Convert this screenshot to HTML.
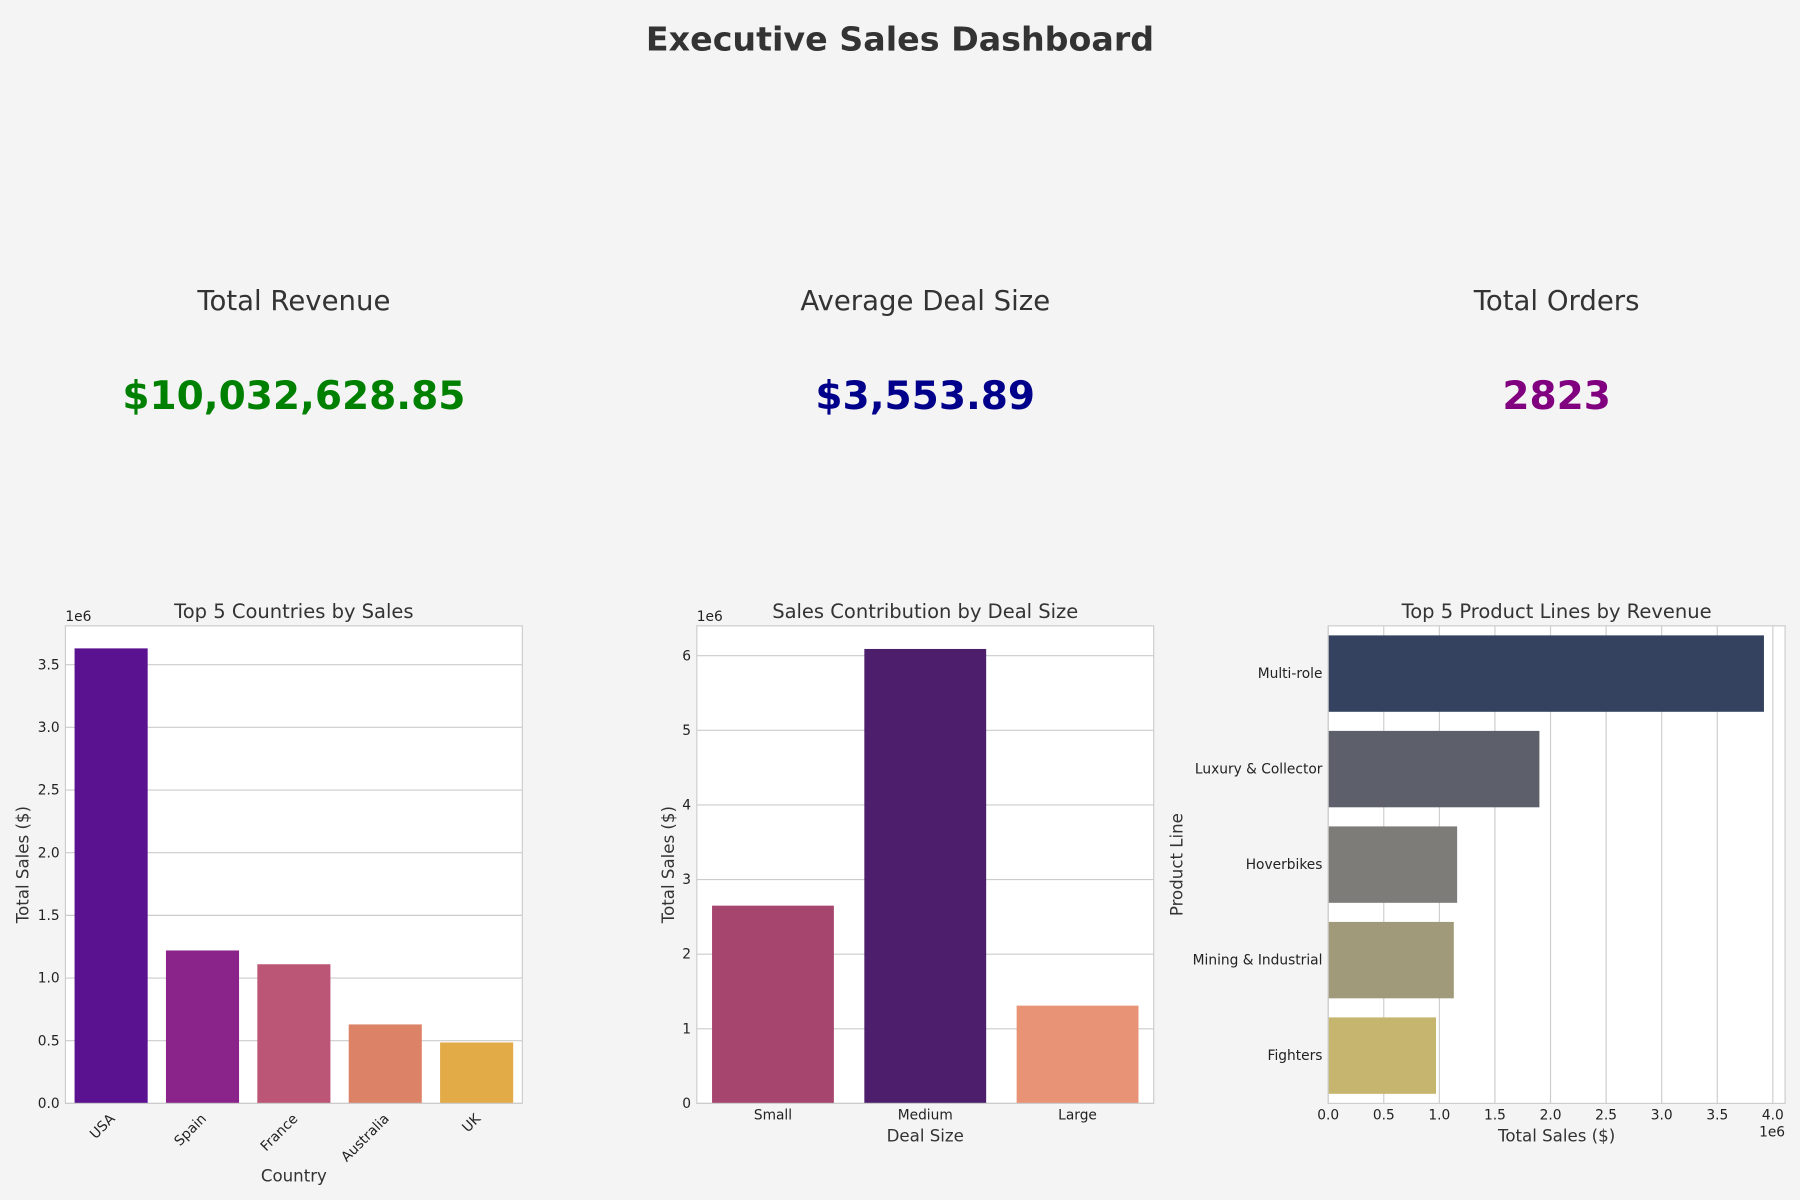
<!DOCTYPE html>
<html><head><meta charset="utf-8"><style>
html,body{margin:0;padding:0;background:#f4f4f4;}
svg{display:block;font-family:"DejaVu Sans","Liberation Sans",sans-serif;}
</style></head><body>
<svg id="s" width="1800" height="1200" viewBox="0 0 1568 1045">
<rect width="1568" height="1045" fill="#f4f4f4"/>
<text x="784" y="44" text-anchor="middle" font-size="29" font-weight="bold" fill="#333">Executive Sales Dashboard</text>
<text x="256" y="270" text-anchor="middle" font-size="24" fill="#333">Total Revenue</text>
<text x="256" y="356" text-anchor="middle" font-size="34" font-weight="bold" fill="#008000">$10,032,628.85</text>
<text x="806" y="270" text-anchor="middle" font-size="24" fill="#333">Average Deal Size</text>
<text x="806" y="356" text-anchor="middle" font-size="34" font-weight="bold" fill="#00008b">$3,553.89</text>
<text x="1356" y="270" text-anchor="middle" font-size="24" fill="#333">Total Orders</text>
<text x="1356" y="356" text-anchor="middle" font-size="34" font-weight="bold" fill="#800080">2823</text>
</svg>
<script>
const countries=["USA","Spain","France","Australia","UK"];
const countrySales=[3.63,1.22,1.11,0.63,0.486];
const countryTicks=[0,0.5,1.0,1.5,2.0,2.5,3.0,3.5];
const dealSizes=["Small","Medium","Large"];
const dealSales=[2.65,6.09,1.31];
const dealTicks=[0,1,2,3,4,5,6];
const productLines=["Multi-role","Luxury & Collector","Hoverbikes","Mining & Industrial","Fighters"];
const productSales=[3.92,1.90,1.16,1.13,0.97];
const productTicks=[0,0.5,1.0,1.5,2.0,2.5,3.0,3.5,4.0];

const NS="http://www.w3.org/2000/svg",S=document.getElementById('s');
function el(t,a,txt){const e=document.createElementNS(NS,t);for(const k in a)e.setAttribute(k,a[k]);if(txt!==undefined)e.textContent=txt;S.appendChild(e);return e;}
const T=545,B=961,FS=12;
function frame(x0,x1,name){const r=el('rect',{x:x0,y:T,width:x1-x0,height:B-T,fill:'#fff'});

}
function border(x0,x1,name){const r=el('rect',{x:x0,y:T,width:x1-x0,height:B-T,fill:'none',stroke:'#ccc','stroke-width':1});

}
function title(x,t,name){const e=el('text',{x:x,y:538,'text-anchor':'middle','font-size':17,fill:'#333'},t);

}

// Chart 1
(function(){const x0=57,x1=455,max=3.81;const y=v=>B-(B-T)*v/max;
frame(x0,x1,'countries');
countryTicks.forEach(t=>{const yy=y(t);el('line',{x1:x0,x2:x1,y1:yy,y2:yy,stroke:'#ccc'});
const l=el('text',{x:x0-5,y:yy+4,'text-anchor':'end','font-size':FS,fill:'#222'},t.toFixed(1));

});
const bw=(x1-x0)/countries.length;
countries.forEach((c,i)=>{const cols=["#5b1290","#8a238a","#bc5676","#dc8266","#e3ab48"];
const r=el('rect',{x:x0+bw*i+bw*0.1,y:y(countrySales[i]),width:bw*0.8,height:B-y(countrySales[i]),fill:cols[i]});


const cx=x0+bw*(i+0.5);
const l=el('text',{x:cx+4,y:B+14,'text-anchor':'end','font-size':FS,fill:'#222',transform:`rotate(-45 ${cx+4} ${B+14})`},c);

});
border(x0,x1,'countries');
el('text',{x:57,y:541,'font-size':FS,fill:'#222'},'1e6');
title(256,'Top 5 Countries by Sales','countries');
const xl=el('text',{x:256,y:1029,'text-anchor':'middle','font-size':14.5,fill:'#333'},'Country');

const yl=el('text',{x:25,y:753,'text-anchor':'middle','font-size':14.5,fill:'#333',transform:'rotate(-90 25 753)'},'Total Sales ($)');
})();

// Chart 2
(function(){const x0=607,x1=1005,max=6.4;const y=v=>B-(B-T)*v/max;
frame(x0,x1,'deal');
dealTicks.forEach(t=>{const yy=y(t);el('line',{x1:x0,x2:x1,y1:yy,y2:yy,stroke:'#ccc'});
const l=el('text',{x:x0-5,y:yy+4,'text-anchor':'end','font-size':FS,fill:'#222'},String(t));

});
const bw=(x1-x0)/dealSizes.length;const cols=["#a6466f","#4d1e6b","#e89376"];
dealSizes.forEach((c,i)=>{const r=el('rect',{x:x0+bw*i+bw*0.1,y:y(dealSales[i]),width:bw*0.8,height:B-y(dealSales[i]),fill:cols[i]});


const l=el('text',{x:x0+bw*(i+0.5),y:B+14,'text-anchor':'middle','font-size':FS,fill:'#222'},c);

});
border(x0,x1,'deal');
el('text',{x:607,y:541,'font-size':FS,fill:'#222'},'1e6');
title(806,'Sales Contribution by Deal Size','deal');
const xl=el('text',{x:806,y:994,'text-anchor':'middle','font-size':14.5,fill:'#333'},'Deal Size');

const yl=el('text',{x:587,y:753,'text-anchor':'middle','font-size':14.5,fill:'#333',transform:'rotate(-90 587 753)'},'Total Sales ($)');
})();

// Chart 3
(function(){const x0=1157,x1=1555,max=4.11;const x=v=>x0+(x1-x0)*v/max;
frame(x0,x1,'product');
productTicks.forEach(t=>{const xx=x(t);el('line',{x1:xx,x2:xx,y1:T,y2:B,stroke:'#ccc'});
const l=el('text',{x:xx,y:B+14,'text-anchor':'middle','font-size':FS,fill:'#222'},t.toFixed(1));

});
const bh=(B-T)/productLines.length;const cols=["#34425f","#5d606a","#7d7c79","#a09a7b","#c6b56e"];
productLines.forEach((c,i)=>{const r=el('rect',{x:x0,y:T+bh*i+bh*0.1,width:x(productSales[i])-x0,height:bh*0.8,fill:cols[i]});


const l=el('text',{x:x0-5,y:T+bh*(i+0.5)+4,'text-anchor':'end','font-size':FS,fill:'#222'},c);

});
border(x0,x1,'product');
el('text',{x:1555,y:990,'text-anchor':'end','font-size':FS,fill:'#222'},'1e6');
title(1356,'Top 5 Product Lines by Revenue','product');
const xl=el('text',{x:1356,y:994,'text-anchor':'middle','font-size':14.5,fill:'#333'},'Total Sales ($)');

const yl=el('text',{x:1030,y:753,'text-anchor':'middle','font-size':14.5,fill:'#333',transform:'rotate(-90 1030 753)'},'Product Line');
})();
</script>
</body></html>
